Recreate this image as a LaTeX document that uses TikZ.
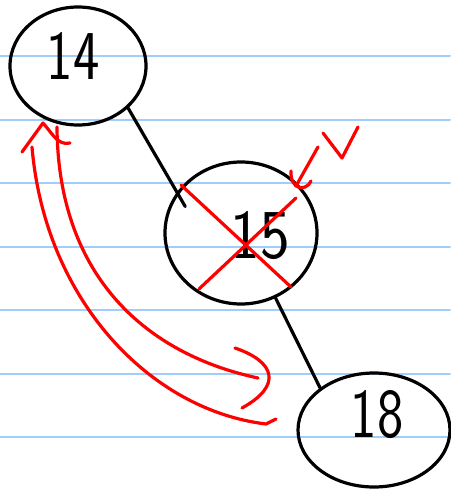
\documentclass[tikz,border=0pt]{standalone}
\usepackage{tikz}
\usetikzlibrary{shapes.geometric}
\definecolor{rulingblue}{RGB}{160,205,250}

\begin{document}
\begin{tikzpicture}[
  x=1pt, y=-1pt, line cap=round, line join=round,
  ruling/.style={draw=rulingblue, line width=2pt},
  num/.style={draw, ellipse, line width=3.2pt, inner sep=0pt},
  digits/.style={font=\sffamily\fontsize{70}{70}\selectfont, inner sep=0pt},
  ink/.style={red, line width=3.2pt}]
\useasboundingbox (0,0) rectangle (450,490);
% notebook lines
\foreach \y in {56,119.5,183,246.5,310,373.5,437}
  \draw[ruling] (0,\y) -- (450,\y);
% the three numbers
\node[num, minimum width=136pt, minimum height=118pt] (n14) at (78,66) {};
\node[num, minimum width=152pt, minimum height=142pt] (n15) at (241,233) {};
\node[num, minimum width=152pt, minimum height=114pt] (n18) at (374,430) {};
\node[digits] (t14) at (73,56) {\scalebox{0.8}[1]{14}};
\node[digits] (t15) at (260,236) {\scalebox{0.9}[1]{15}};
\node[digits] (t18) at (377,415) {\scalebox{0.8}[1]{18}};
\draw[line width=3.2pt] (n14.-40) -- ([shift={(2pt,-22pt)}]n15.140);
\draw[line width=3.2pt] (n15.-62) -- (n18.142);
% crossed out 15
\draw[ink] (181,185) -- (291,287);
\draw[ink] (199,289) -- (296,198);
\draw[ink] (318,147) -- (296,186);
\draw[ink] (291,171) .. controls (290,190) and (306,192) .. (311,181);
\draw[ink] (323,133) -- (342,158) -- (358,127);
% red arrows
\draw[ink] (57,127) .. controls (58,280) and (150,355) .. (258,378);
\draw[ink] (235,348) .. controls (276,362) and (282,386) .. (242,408);
\draw[ink] (32,147) .. controls (45,300) and (150,410) .. (266,424) -- (276,419);
\draw[ink] (22,152) -- (43,123) .. controls (52,133) and (58,146) .. (70,143);
\end{tikzpicture}
\end{document}
